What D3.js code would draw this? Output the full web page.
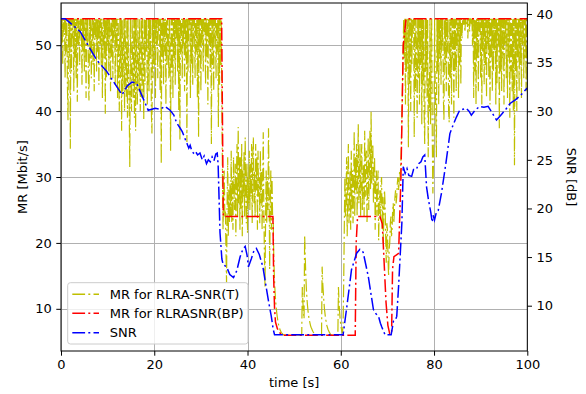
<!DOCTYPE html>
<html>
<head>
<meta charset="utf-8">
<script src="https://cdn.jsdelivr.net/npm/d3@7"></script>
<style>
  html, body { margin: 0; padding: 0; background: #fff; }
  svg { display: block; }
  text { font-family: "DejaVu Sans", sans-serif; fill: #000; }
</style>
</head>
<body>
<svg id="chart" width="586" height="394"></svg>
<script>
// ---------------- DATA ----------------
const xTicks = [0, 20, 40, 60, 80, 100];
const mrTicks = [10, 20, 30, 40, 50];
const snrTicks = [10, 15, 20, 25, 30, 35, 40];

const seriesNames = ["MR for RLRA-SNR(T)", "MR for RLRASNR(BP)", "SNR"];

// MR for RLRA-SNR(T): sampled every 0.125 s from t = 0 to 100 s
const mrTStep = 0.125;
const mrT = [
  // 0 - 34.375 s
  54,50,54,47,54,52,54,45,54,49,54,44,38.6,54,48,54,
  34.3,54,46,54,51,54,43,54,48,54,45,54,41.4,54,50,54,
  47,54,52,54,44,54,49,54,46,53,54,42,54,50,54,45,
  41.6,54,48,54,45,52,54,47,54,43,54,51,54,46,54,49,
  54,44,54,50,54,47,54,42,53,54,48,54,39.6,54,45,54,
  50,54,46,54,52,43,54,48,54,45,54,51,54,44,54,49,
  54,42,54,47,40,54,45,54,37,54,43,48,54,40,54,46,
  42,54,39,54,45,41,31.5,54,44,40,54,47,42,54,39,54,
  37,54,45,41,54,48,43,54,40,46,54,42,54,47,38.6,54,
  44,54,49,54,41,46,54,43,54,48,54,40,36.6,54,45,54,
  47,54,42,54,50,54,45,54,52,54,43,54,32,54,48,54,
  44,54,49,54,41,54,47,54,52,45,54,50,34,54,46,54,
  42,54,48,54,44,54,51,54,46,54,40,54,35.6,54,49,54,
  45,54,50,54,43,54,48,54,35.3,54,46,54,52,54,42,54,
  47,54,44,54,51,54,45,54,49,54,42,54,36,54,48,54,
  43,54,50,54,46,54,52,54,44,54,48,54,41,54,50,54,
  46,54,35,54,47,54,43,54,51,54,45,54,49,54,37.6,54,
  44,54,47,54,
  // 34.5 - 45.375 s
  40,30,22,27,31,24,25,19,14,26,33,21,28,23,29,24,
  34,23,30,22,33,27,25,32,21,30,35,24,37.6,26,33,22,
  33,25,35,21,31,27,34,24,36,28,23,32,21.5,30,26,34,
  25,32,27,35,23,33,36,26,31,24,35,28,33,22,34,27,
  30,23,34,26,31,22,29,36.8,25,18,13.3,24,31,23,30,25,
  37.4,28,16,26,31,22,30,24,
  // 45.5 - 60.375 s
  24,18,15,13,11.5,10.4,9.5,8.8,8.2,7.7,7.3,7.0,6.8,6.6,6.4,6.3,6.2,6.1,6.05,6,
  6,6,6,6,6,6,6,6,6,6,6,6,6,6,6,6,6,6,6,6,6,6,6,6,6,6,6,6,6,6,
  13.3,11,9.5,8.5,21.2,18,15,13,11.5,10.4,9.5,8.8,8.3,7.9,7.5,7.2,7.0,6.8,6.6,6.45,6.3,6.2,6.1,6.05,
  6,6,6,6,6,6,6,6,6,6,
  16.4,14,12.5,11.1,10,9.2,8.5,8.0,7.5,7.2,6.9,6.7,6.5,6.35,6.2,6.1,
  6,6,6,6,6,6,6,6,6,6,6,6,
  13.3,11,9.5,8.4,7.5,7.0,6.5,6.3,
  // 60.5 - 73.375 s
  8,14,22,30,24,27,33,21,29,35,23,26,31,22,34,25,
  31,23,28,37,24,33,28,35,24,30,38,26,29,35,24,32,
  35,25,30,32,24,37,27,33,34,23,29,36,25,31,37,28,
  40,29,34,35,26,31,33,22,28,31,24,29,31,20.4,26,28,
  24,29,30,22,27,20,25,28,26,21,17,23,22,18,15,19,
  20,23,24,21,22,25,26,23,25,27,28,26,27,29,30,28,
  29,31,30,32,35,40,45,50,
  // 73.5 - 100 s
  54,48,54,41,54,46,52,54,34.5,54,44,54,40,54,47,54,
  52,54,36,54,43,54,49,39,54,45,54,41,54,47,54,38,
  54,44,54,40,35,54,46,54,42,54,33,45,40,54,38,50,
  54,36,27.5,32,38,54,44,40,33,54,46,54,41,54,48,54,
  44,54,50,54,42,38.6,54,47,54,43,54,49,54,40,38.3,54,
  45,54,41,54,48,54,39,54,46,54,43,54,50,54,42,54,
  47,54,44,54,51,54,53,54,54,52,54,54,53,54,51,54,
  54,52,54,54,53,54,50,54,42,54,46,54,41,54,48,54,
  43,54,52,54,45,54,41,54,49,54,44,54,47,54,42,54,
  50,54,45,54,41,54,48,54,43,54,46,54,49,54,41,54,
  44,54,50,54,37.4,54,46,54,43,54,48,54,41,54,50,54,
  45,54,42,54,48,54,39,54,46,54,43,54,40,54,31.8,54,
  46,54,40,54,48,54,43,54,47,54,42,54,50,54,45,54,
  48,54,43,54,54
];

// MR for RLRASNR(BP)
const mrBPTime = [0, 34.45, 34.8, 45.45, 45.6, 45.8, 46.0, 46.4, 47.0, 47.6, 63.1, 63.3, 63.6, 68.4, 68.9, 69.3, 69.7, 70.1, 70.5, 70.9, 71.1, 71.4, 72.4, 72.9, 73.4, 74.0, 100];
const mrBP     = [54, 54, 24, 24, 15, 10, 8, 7, 6.3, 6, 6, 20, 24, 24, 22.9, 17, 11, 7.5, 6.2, 6.3, 16, 17.9, 18.4, 30, 50, 54, 54];

// SNR [dB]
const snrTime = [0,0.9,1.2,4.1,7.6,9.8,13.1,14.2,15.2,16.2,18.7,20.2,21.3,22.3,23.4,24.2,24.8,25.5,26.0,26.5,27.0,27.4,27.7,28.0,28.4,28.8,29.3,29.8,30.3,30.7,31.2,31.6,32.0,32.4,32.8,33.2,33.5,33.7,34.1,34.5,34.8,35.5,36.2,37.0,37.7,38.4,39.0,39.5,39.9,40.2,40.8,41.4,41.9,42.5,43.3,44.0,44.6,45.1,45.5,45.8,60.5,61.3,62.3,63.4,64.1,64.8,65.9,67.0,67.5,68.1,68.5,68.8,69.5,70.8,71.3,71.7,72.0,72.4,73.1,73.4,73.8,74.2,74.6,75.2,75.6,76.2,76.7,77.2,77.6,78.0,78.4,78.8,79.3,79.6,79.8,80.1,80.5,80.9,81.6,82.5,83.4,84.1,84.8,85.5,86.2,86.9,87.5,88.0,88.8,89.8,90.7,91.6,92.5,93.4,94.5,95.4,96.3,97.5,98.5,100];
const snr     = [39.5,39.5,39.4,38.2,35.3,34.1,31.7,32.6,33.0,32.9,30.1,30.3,30.2,30.5,30.1,29.6,28.8,28.3,27.9,27.3,26.7,26.2,26.5,26.0,25.7,25.9,25.5,25.7,25.0,25.4,24.6,25.0,24.8,25.3,24.9,25.6,25.7,24.5,17.5,14.8,14.2,14.0,13.2,12.9,13.6,15.0,15.8,16.1,15.2,14.0,14.8,15.7,15.9,15.3,14.0,11.9,10.2,8.9,7.6,7.0,7.0,9.9,13.7,15.4,15.8,15.5,13.0,9.6,9.2,8.9,8.2,7.8,7.0,7.0,8.4,8.5,8.9,12.0,18.5,24.3,23.6,24.1,23.4,23.3,24.0,24.0,24.6,24.8,25.3,25.5,22.2,20.9,19.6,18.6,19.3,18.8,19.6,19.8,21.6,24.5,27.7,28.6,29.4,30.1,30.2,30.3,30.0,29.6,30.1,30.5,30.4,30.5,29.8,29.1,29.7,30.2,30.8,31.2,31.6,32.4];

// ---------------- CHART ----------------
const colors = ["#bfbf00", "#ff0000", "#0000ff"];
const L = 61, R = 527.3, T = 3, B = 351;
const dash = "12.8,3.2,2,3.2";
const lw = 1.5;

const svg = d3.select("#chart");
const x = d3.scaleLinear().domain([0, 100]).range([L, R]);
const yL = d3.scaleLinear().domain([3.6, 56.4]).range([B, T]);
const yR = d3.scaleLinear().domain([5.34, 41.13]).range([B, T]);

svg.append("defs").append("clipPath").attr("id", "clip")
  .append("rect").attr("x", L).attr("y", T).attr("width", R - L).attr("height", B - T);

// grid
const grid = svg.append("g").attr("stroke", "#b0b0b0").attr("stroke-width", 1);
xTicks.forEach(v => grid.append("line")
  .attr("x1", Math.round(x(v)) + 0.5).attr("x2", Math.round(x(v)) + 0.5)
  .attr("y1", T).attr("y2", B));
mrTicks.forEach(v => grid.append("line")
  .attr("x1", L).attr("x2", R)
  .attr("y1", Math.round(yL(v)) + 0.5).attr("y2", Math.round(yL(v)) + 0.5));

const plot = svg.append("g").attr("clip-path", "url(#clip)");

const yellowData = mrT.map((v, i) => [i * mrTStep, v]);
const redData = mrBPTime.map((t, i) => [t, mrBP[i]]);
const blueData = snrTime.map((t, i) => [t, snr[i]]);

const lineL = d3.line().x(d => x(d[0])).y(d => yL(d[1]));
const lineR = d3.line().x(d => x(d[0])).y(d => yR(d[1]));

plot.append("path").datum(yellowData).attr("d", lineL)
  .attr("fill", "none").attr("stroke", colors[0]).attr("stroke-width", 1.2)
  .attr("stroke-dasharray", dash);
plot.append("path").datum(redData).attr("d", lineL)
  .attr("fill", "none").attr("stroke", colors[1]).attr("stroke-width", lw)
  .attr("stroke-dasharray", dash);
plot.append("path").datum(blueData).attr("d", lineR)
  .attr("fill", "none").attr("stroke", colors[2]).attr("stroke-width", lw)
  .attr("stroke-dasharray", dash);

// axes
const fs = 13;
const axB = svg.append("g").attr("transform", `translate(0,${B})`)
  .call(d3.axisBottom(x).tickValues(xTicks).tickSize(4.7).tickPadding(4.5).tickFormat(d3.format("d")));
const axL = svg.append("g").attr("transform", `translate(${L},0)`)
  .call(d3.axisLeft(yL).tickValues(mrTicks).tickSize(4.7).tickPadding(4.5).tickFormat(d3.format("d")));
const axR = svg.append("g").attr("transform", `translate(${R},0)`)
  .call(d3.axisRight(yR).tickValues(snrTicks).tickSize(4.7).tickPadding(4.5).tickFormat(d3.format("d")));
[axB, axL, axR].forEach(a => {
  a.select(".domain").remove();
  a.selectAll("text").attr("font-size", fs).attr("font-family", "DejaVu Sans");
  a.selectAll("line").attr("stroke", "#000").attr("stroke-width", 1);
});

// spines
svg.append("rect").attr("x", L).attr("y", T).attr("width", R - L).attr("height", B - T)
  .attr("fill", "none").attr("stroke", "#000").attr("stroke-width", 1);

// axis labels
svg.append("text").attr("x", (L + R) / 2).attr("y", 387).attr("text-anchor", "middle")
  .attr("font-size", fs).text("time [s]");
svg.append("text").attr("transform", `translate(27,${(T + B) / 2}) rotate(-90)`)
  .attr("text-anchor", "middle").attr("font-size", fs).text("MR [Mbit/s]");
svg.append("text").attr("transform", `translate(567,${(T + B) / 2}) rotate(90)`)
  .attr("text-anchor", "middle").attr("font-size", fs).text("SNR [dB]");

// legend
const lg = svg.append("g");
lg.append("rect").attr("x", 67.7).attr("y", 282.7).attr("width", 180.3).attr("height", 61.3)
  .attr("rx", 2.7).attr("fill", "#fff").attr("fill-opacity", 0.8)
  .attr("stroke", "#cccccc").attr("stroke-width", 1);
const rowsY = [294.3, 313.3, 332.7];
seriesNames.forEach((name, i) => {
  lg.append("line").attr("x1", 72.3).attr("x2", 99).attr("y1", rowsY[i]).attr("y2", rowsY[i])
    .attr("stroke", colors[i]).attr("stroke-width", lw).attr("stroke-dasharray", dash);
  lg.append("text").attr("x", 109.7).attr("y", rowsY[i]).attr("dy", "0.36em")
    .attr("font-size", fs).text(name);
});
</script>
</body>
</html>
